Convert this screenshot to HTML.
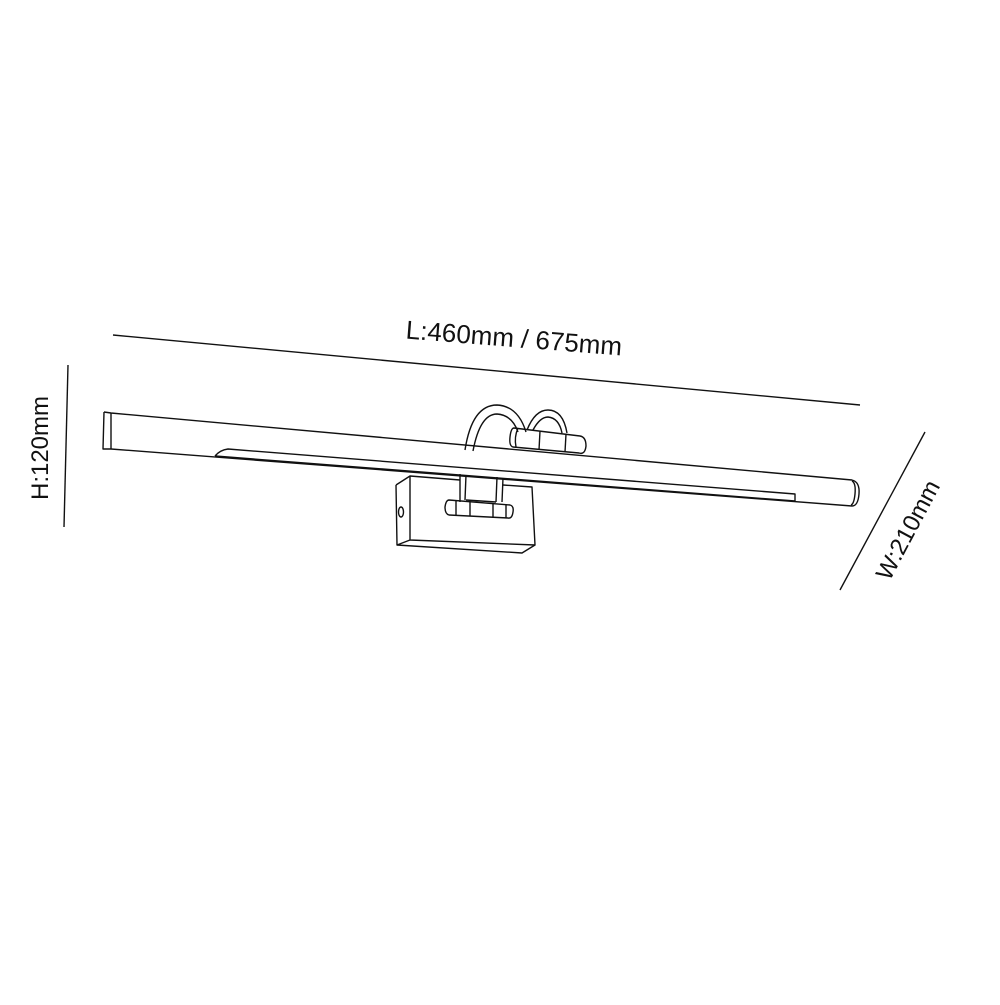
<!DOCTYPE html>
<html><head><meta charset="utf-8"><style>html,body{margin:0;padding:0;background:#fff}</style></head><body>
<svg width="1000" height="1000" viewBox="0 0 1000 1000" xmlns="http://www.w3.org/2000/svg">
<rect width="1000" height="1000" fill="#fff"/>
<g fill="none" stroke="#111" stroke-width="1.4" stroke-linejoin="round">
<line x1="113" y1="335" x2="860" y2="405"/>
<line x1="68" y1="365" x2="64" y2="527"/>
<line x1="925" y1="432" x2="840" y2="590"/>
<path d="M104,412 L111,413 L852,480"/>
<path d="M104,412 L103,449 L111,449 L852,506"/>
<line x1="111" y1="413" x2="111" y2="449"/>
<path d="M852,480 Q860,482 859,494 Q858,506 852,506"/>
<path d="M852,481 Q856,483 855,494 Q854,504 851,505"/>
<path d="M215,456 Q220,450 228,449 L795,494 L795,501 L215,456"/>
<path d="M465,450 Q472,405 497,405 Q518,406 526,432"/>
<path d="M473,451 Q480,414 497,414 Q512,415 518,432"/>
<path d="M527,430 Q535,410 548,410 Q563,410 567,433"/>
<path d="M533,430 Q540,417 548,417 Q559,418 562,433"/>
<path d="M514,428 L580,436 Q586,437 586,446 Q585,455 579,453 L513,447 Q509,446 510,437 Q511,428 514,428 Z"/>
<path d="M518,428 Q514,437 516,447"/>
<line x1="540" y1="431" x2="539" y2="450"/>
<line x1="566" y1="434" x2="565" y2="452"/>
<line x1="460" y1="474" x2="460" y2="502"/>
<line x1="466" y1="475" x2="465" y2="500"/>
<line x1="497" y1="477" x2="496" y2="502"/>
<line x1="503" y1="478" x2="502" y2="502"/>
<line x1="466" y1="500" x2="496" y2="502"/>
<path d="M396,485 L410,476 L460,480"/>
<path d="M503,485 L532,487 L535,545 L410,540 L410,476"/>
<path d="M396,485 L397,545 L410,540"/>
<path d="M397,545 L522,553 L535,545"/>
<ellipse cx="401" cy="512" rx="2.5" ry="5"/>
<path d="M449,500 L510,505 Q514,506 513,512 Q512,519 508,518 L449,515 Q445,514 445,507 Q446,500 449,500 Z"/>
<line x1="456" y1="501" x2="456" y2="516"/>
<line x1="470" y1="502" x2="470" y2="516"/>
<line x1="493" y1="503" x2="493" y2="518"/>
<line x1="506" y1="504" x2="506" y2="518"/>
</g>
<g font-family="Liberation Sans, sans-serif" fill="#111">
<text x="514" y="347" font-size="26" text-anchor="middle" transform="rotate(4.5 514 338)">L:460mm / 675mm</text>
<text x="40" y="456" font-size="24" text-anchor="middle" transform="rotate(-90 40 448)">H:120mm</text>
<text x="908" y="538" font-size="24" text-anchor="middle" transform="rotate(-62 908 530)">W:210mm</text>
</g>
</svg>
</body></html>
